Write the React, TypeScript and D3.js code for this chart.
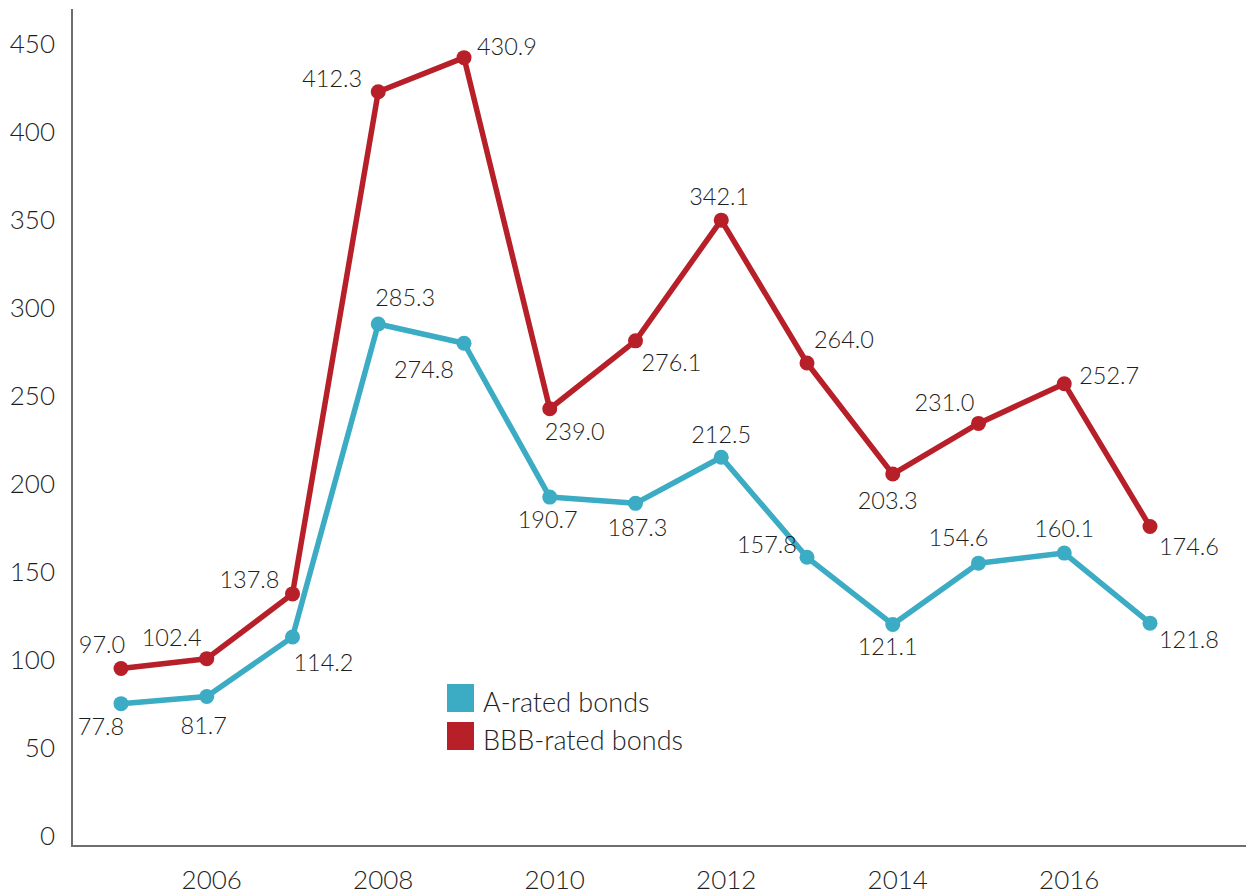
import React from "react";
import * as d3 from "d3";

const years = [2005, 2006, 2007, 2008, 2009, 2010, 2011, 2012, 2013, 2014, 2015, 2016, 2017];
const aRated = [77.8, 81.7, 114.2, 285.3, 274.8, 190.7, 187.3, 212.5, 157.8, 121.1, 154.6, 160.1, 121.8];
const bbbRated = [97.0, 102.4, 137.8, 412.3, 430.9, 239.0, 276.1, 342.1, 264.0, 203.3, 231.0, 252.7, 174.6];
const yTicks = [0, 50, 100, 150, 200, 250, 300, 350, 400, 450];
const xTickYears = [2006, 2008, 2010, 2012, 2014, 2016];
const seriesNames = ["A-rated bonds", "BBB-rated bonds"];

// label placement offsets (layout, not data)
const aLabelDx = [-20, -3, 31, 27, -40, -2, 2, 0, -40, -5, -20, 0, 39];
const aLabelDy = [22, 28, 25, -27, 26, 22, 24, -23, -13, 22, -26, -25, 16];
const bLabelDx = [-19, -35, -43, -46, 43, 25, 36, -2, 37, -5, -34, 45, 39];
const bLabelDy = [-25, -22, -15, -14, -12, 22, 21, -24, -24, 26, -21, -9, 19];

const TEAL = "#3cabc4";
const RED = "#b71f29";
const TEXT = "#1e1e1e";
const FONT = "Lato, 'Open Sans', sans-serif";

export default function App() {
  const W = 1250;
  const H = 895;
  const x = d3.scalePoint<number>().domain(years).range([121, 1150]);
  const y = d3.scaleLinear().domain([0, 457.5]).range([846, 9]);
  const yTickScale = d3.scaleLinear().domain([0, 450]).range([835, 42.7]);

  const line = d3
    .line<number>()
    .x((_, i) => x(years[i]) as number)
    .y((d) => y(d));

  const series = [
    { name: seriesNames[0], values: aRated, color: TEAL, dx: aLabelDx, dy: aLabelDy },
    { name: seriesNames[1], values: bbbRated, color: RED, dx: bLabelDx, dy: bLabelDy },
  ];

  return (
    <svg
      width={W}
      height={H}
      style={{ position: "absolute", left: 0, top: 0, background: "#fff" }}
      fontFamily={FONT}
      fontWeight={300}
    >
      {/* axes */}
      <line x1={72} x2={72} y1={9} y2={846} stroke="#6f6f6f" strokeWidth={2} />
      <line x1={71} x2={1246} y1={846} y2={846} stroke="#6f6f6f" strokeWidth={2} />

      {yTicks.map((t) => (
        <text
          key={t}
          x={55}
          y={yTickScale(t)}
          textAnchor="end"
          dominantBaseline="central"
          fontSize={26}
          fill={TEXT}
        >
          {t}
        </text>
      ))}

      {xTickYears.map((yr) => (
        <text
          key={yr}
          x={(x(yr) as number) + 5}
          y={879}
          textAnchor="middle"
          dominantBaseline="central"
          fontSize={26}
          fill={TEXT}
        >
          {yr}
        </text>
      ))}

      {series.map((s) => (
        <g key={s.name}>
          <path d={line(s.values) || ""} fill="none" stroke={s.color} strokeWidth={5.5} strokeLinejoin="round" />
          {s.values.map((v, i) => (
            <circle key={i} cx={x(years[i]) as number} cy={y(v)} r={7.5} fill={s.color} />
          ))}
        </g>
      ))}

      {series.map((s) =>
        s.values.map((v, i) => (
          <text
            key={s.name + i}
            x={(x(years[i]) as number) + s.dx[i]}
            y={y(v) + s.dy[i]}
            textAnchor="middle"
            dominantBaseline="central"
            fontSize={23.5}
            fill={TEXT}
          >
            {v.toFixed(1)}
          </text>
        ))
      )}

      {/* legend */}
      {series.map((s, i) => (
        <g key={"leg" + i} transform={`translate(447, ${684 + i * 38})`}>
          <rect width={27} height={28} fill={s.color} />
          <text x={36} y={17} dominantBaseline="central" fontSize={27} fill={TEXT}>
            {s.name}
          </text>
        </g>
      ))}
    </svg>
  );
}
